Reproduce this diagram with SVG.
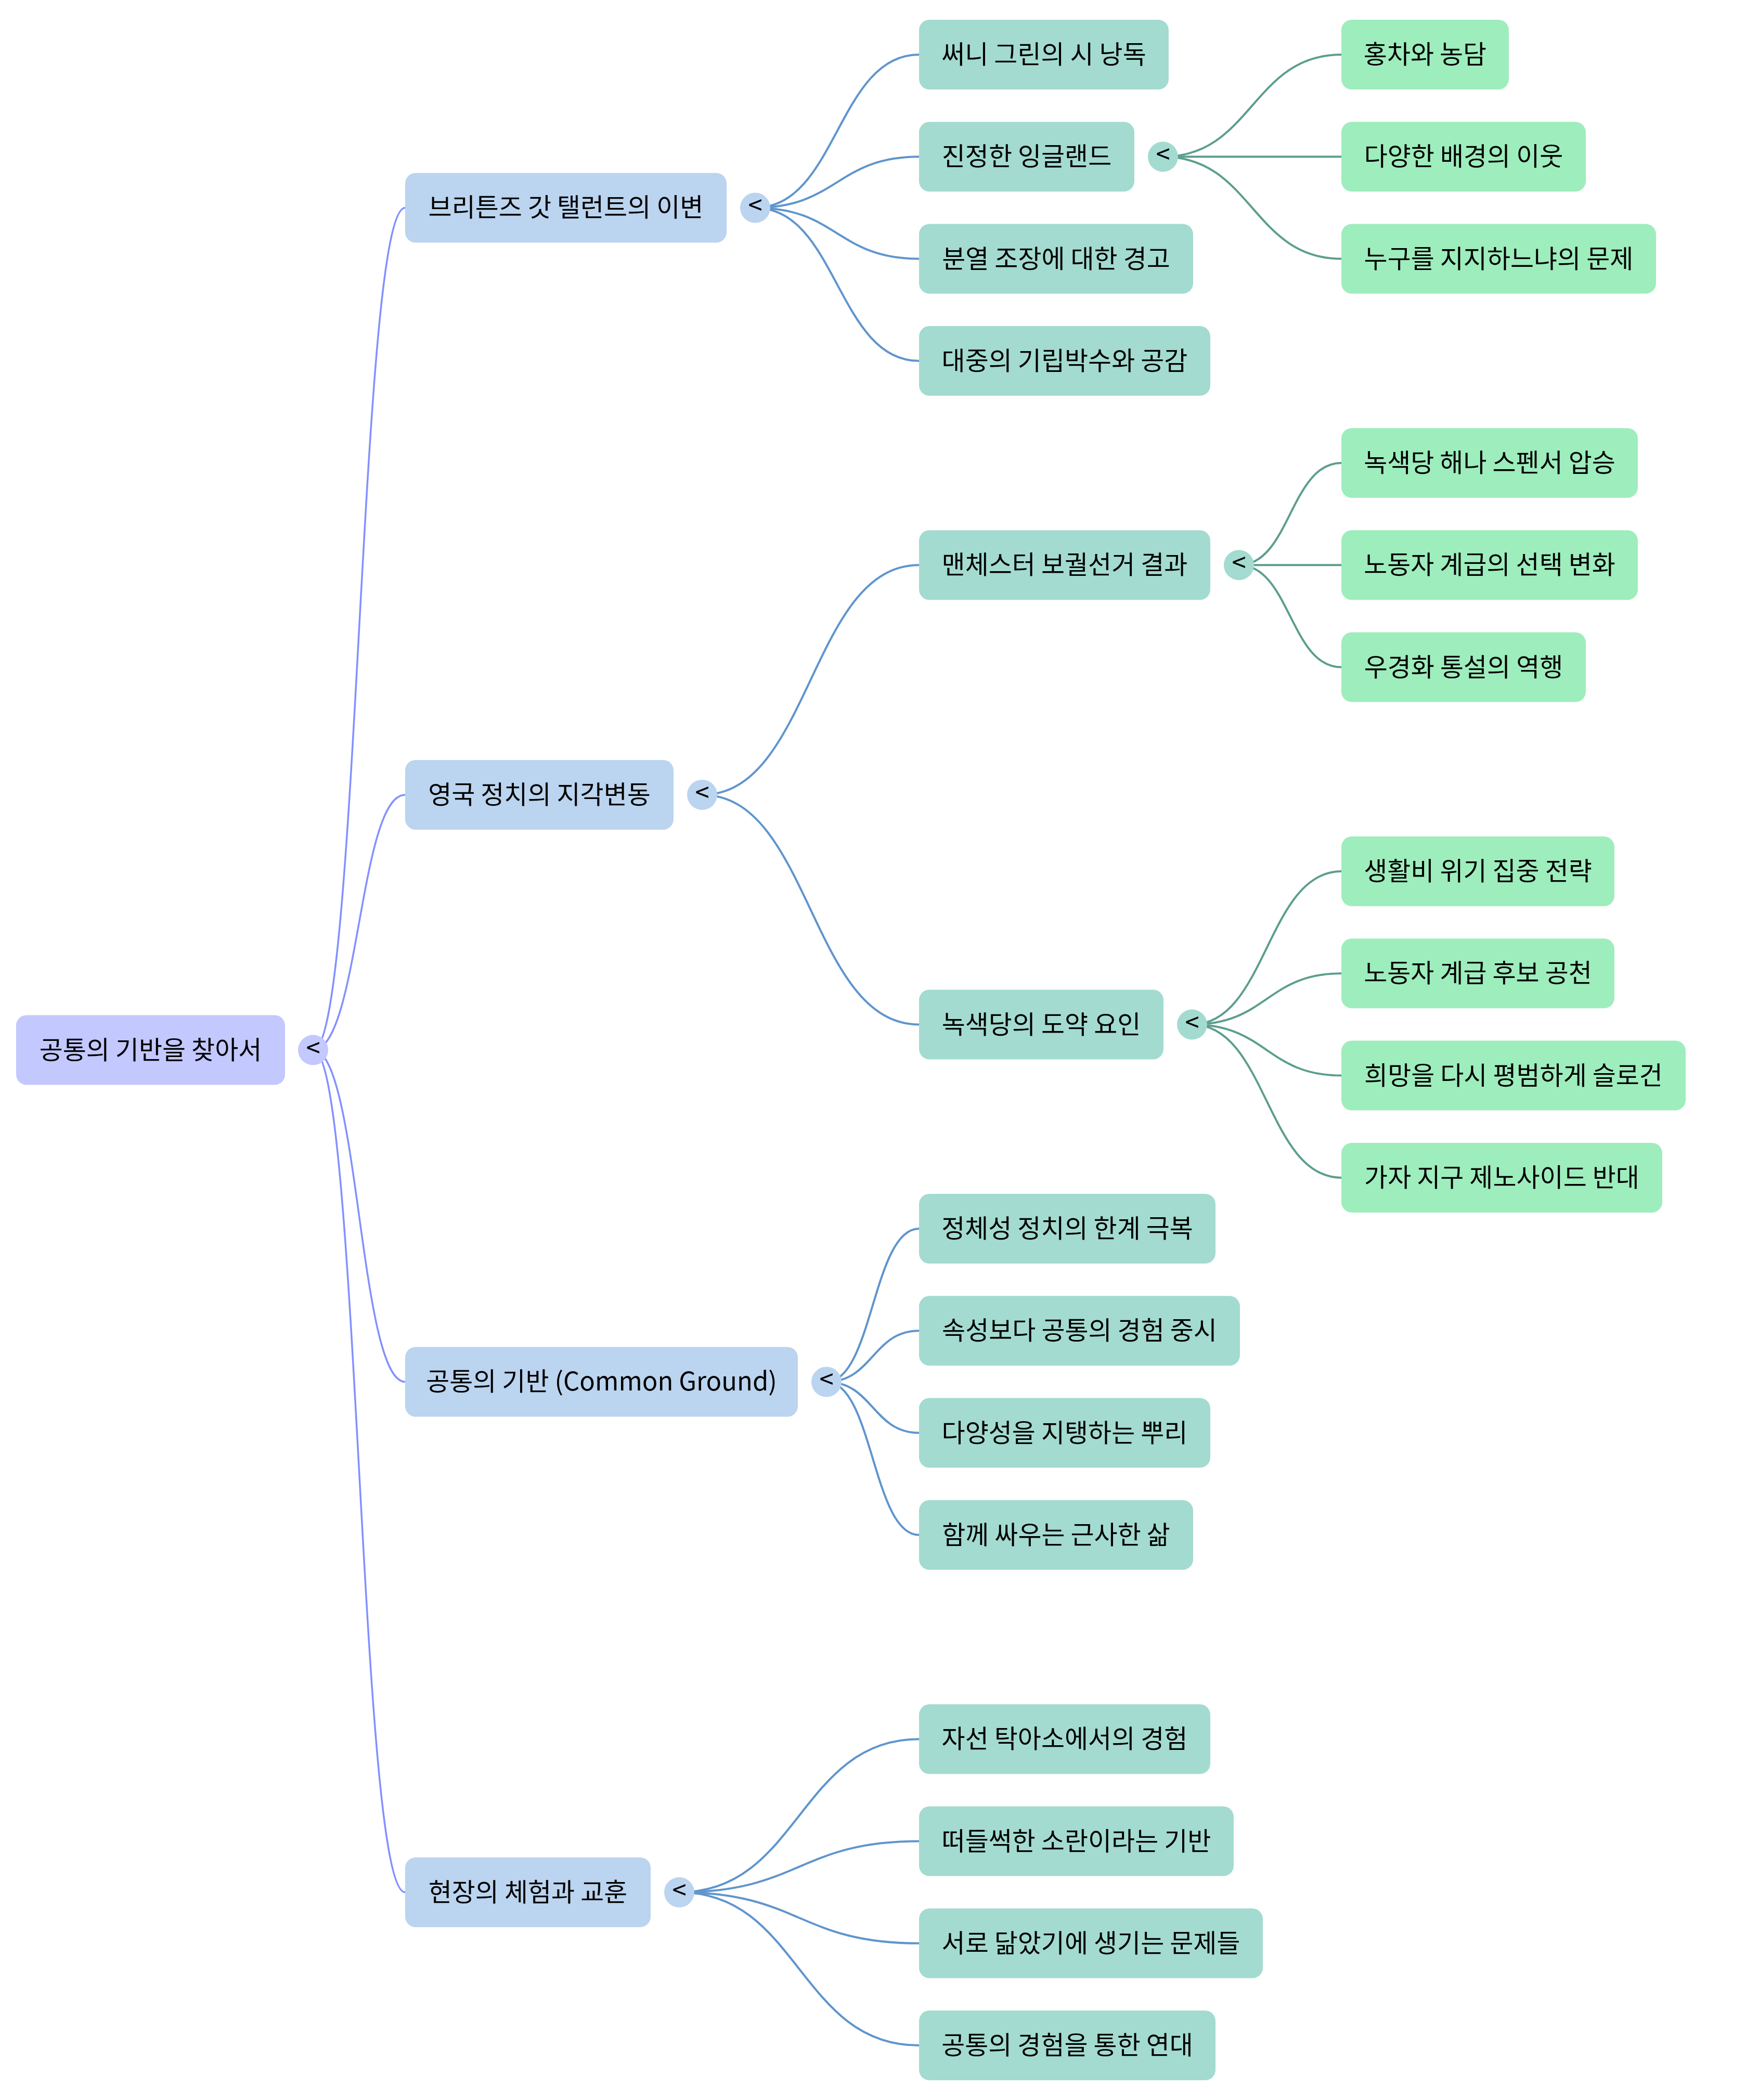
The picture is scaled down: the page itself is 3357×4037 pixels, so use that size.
<svg xmlns="http://www.w3.org/2000/svg" width="3357" height="4037" viewBox="0 0 3357 4037">
<style>
text{font-family:"Noto Sans CJK KR","Noto Sans",sans-serif;font-size:49px;fill:#000;text-anchor:middle}
.root rect,.root circle{fill:#c3c8fe}
.l1 rect,.l1 circle{fill:#bbd4ef}
.l2 rect,.l2 circle{fill:#a3dbd0}
.l3 rect{fill:#9eedbd}
.e0{fill:none;stroke:#8290ff;stroke-width:3.5}
.e1{fill:none;stroke:#5f95cd;stroke-width:4}
.e2{fill:none;stroke:#5c9e8e;stroke-width:4}
</style>
<rect width="3357" height="4037" fill="#fff"/>
<g id="connectors">
<path class="e0" d="M602,2018.5 C690.5,2018.5 690.5,399.4 779,399.4"/>
<path class="e0" d="M602,2018.5 C690.5,2018.5 690.5,1527.9 779,1527.9"/>
<path class="e0" d="M602,2018.5 C690.5,2018.5 690.5,2656.4 779,2656.4"/>
<path class="e0" d="M602,2018.5 C690.5,2018.5 690.5,3637.7 779,3637.7"/>
<path class="e1" d="M1452,399.4 C1609.5,399.4 1609.5,105 1767,105"/>
<path class="e1" d="M1452,399.4 C1609.5,399.4 1609.5,301.3 1767,301.3"/>
<path class="e1" d="M1452,399.4 C1609.5,399.4 1609.5,497.5 1767,497.5"/>
<path class="e1" d="M1452,399.4 C1609.5,399.4 1609.5,693.8 1767,693.8"/>
<path class="e1" d="M1350,1527.9 C1558.5,1527.9 1558.5,1086.3 1767,1086.3"/>
<path class="e1" d="M1350,1527.9 C1558.5,1527.9 1558.5,1969.5 1767,1969.5"/>
<path class="e1" d="M1589,2656.4 C1678,2656.4 1678,2362 1767,2362"/>
<path class="e1" d="M1589,2656.4 C1678,2656.4 1678,2558.3 1767,2558.3"/>
<path class="e1" d="M1589,2656.4 C1678,2656.4 1678,2754.5 1767,2754.5"/>
<path class="e1" d="M1589,2656.4 C1678,2656.4 1678,2950.8 1767,2950.8"/>
<path class="e1" d="M1306,3637.7 C1536.5,3637.7 1536.5,3343.3 1767,3343.3"/>
<path class="e1" d="M1306,3637.7 C1536.5,3637.7 1536.5,3539.6 1767,3539.6"/>
<path class="e1" d="M1306,3637.7 C1536.5,3637.7 1536.5,3735.8 1767,3735.8"/>
<path class="e1" d="M1306,3637.7 C1536.5,3637.7 1536.5,3932.1 1767,3932.1"/>
<path class="e2" d="M2236,301.3 C2407.5,301.3 2407.5,105 2579,105"/>
<path class="e2" d="M2236,301.3 C2407.5,301.3 2407.5,301.3 2579,301.3"/>
<path class="e2" d="M2236,301.3 C2407.5,301.3 2407.5,497.5 2579,497.5"/>
<path class="e2" d="M2382,1086.3 C2480.5,1086.3 2480.5,890 2579,890"/>
<path class="e2" d="M2382,1086.3 C2480.5,1086.3 2480.5,1086.3 2579,1086.3"/>
<path class="e2" d="M2382,1086.3 C2480.5,1086.3 2480.5,1282.6 2579,1282.6"/>
<path class="e2" d="M2292,1969.5 C2435.5,1969.5 2435.5,1675.1 2579,1675.1"/>
<path class="e2" d="M2292,1969.5 C2435.5,1969.5 2435.5,1871.3 2579,1871.3"/>
<path class="e2" d="M2292,1969.5 C2435.5,1969.5 2435.5,2067.6 2579,2067.6"/>
<path class="e2" d="M2292,1969.5 C2435.5,1969.5 2435.5,2263.9 2579,2263.9"/>
</g>
<g id="root" class="root"><rect x="31" y="1951.5" width="517" height="134" rx="20"/><text x="289.5" y="2035.5">공통의 기반을 찾아서</text><circle cx="602" cy="2018.5" r="29"/><text x="602" y="2031.5">&lt;</text></g>
<g id="n1" class="l1"><rect x="779" y="332.4" width="618" height="134" rx="20"/><text x="1088" y="416.4">브리튼즈 갓 탤런트의 이변</text><circle cx="1452" cy="399.4" r="29"/><text x="1452" y="412.4">&lt;</text></g>
<g id="n2" class="l1"><rect x="779" y="1460.9" width="516" height="134" rx="20"/><text x="1037" y="1544.9">영국 정치의 지각변동</text><circle cx="1350" cy="1527.9" r="29"/><text x="1350" y="1540.9">&lt;</text></g>
<g id="n3" class="l1"><rect x="779" y="2589.4" width="755" height="134" rx="20"/><text x="1156.5" y="2673.4">공통의 기반 (Common Ground)</text><circle cx="1589" cy="2656.4" r="29"/><text x="1589" y="2669.4">&lt;</text></g>
<g id="n4" class="l1"><rect x="779" y="3570.7" width="472" height="134" rx="20"/><text x="1015" y="3654.7">현장의 체험과 교훈</text><circle cx="1306" cy="3637.7" r="29"/><text x="1306" y="3650.7">&lt;</text></g>
<g id="n1a" class="l2"><rect x="1767" y="38" width="480" height="134" rx="20"/><text x="2007" y="122">써니 그린의 시 낭독</text></g>
<g id="n1b" class="l2"><rect x="1767" y="234.3" width="414" height="134" rx="20"/><text x="1974" y="318.3">진정한 잉글랜드</text><circle cx="2236" cy="301.3" r="29"/><text x="2236" y="314.3">&lt;</text></g>
<g id="n1c" class="l2"><rect x="1767" y="430.5" width="527" height="134" rx="20"/><text x="2030.5" y="514.5">분열 조장에 대한 경고</text></g>
<g id="n1d" class="l2"><rect x="1767" y="626.8" width="560" height="134" rx="20"/><text x="2047" y="710.8">대중의 기립박수와 공감</text></g>
<g id="n2a" class="l2"><rect x="1767" y="1019.3" width="560" height="134" rx="20"/><text x="2047" y="1103.3">맨체스터 보궐선거 결과</text><circle cx="2382" cy="1086.3" r="29"/><text x="2382" y="1099.3">&lt;</text></g>
<g id="n2b" class="l2"><rect x="1767" y="1902.5" width="470" height="134" rx="20"/><text x="2002" y="1986.5">녹색당의 도약 요인</text><circle cx="2292" cy="1969.5" r="29"/><text x="2292" y="1982.5">&lt;</text></g>
<g id="n3a" class="l2"><rect x="1767" y="2295" width="570" height="134" rx="20"/><text x="2052" y="2379">정체성 정치의 한계 극복</text></g>
<g id="n3b" class="l2"><rect x="1767" y="2491.3" width="617" height="134" rx="20"/><text x="2075.5" y="2575.3">속성보다 공통의 경험 중시</text></g>
<g id="n3c" class="l2"><rect x="1767" y="2687.5" width="560" height="134" rx="20"/><text x="2047" y="2771.5">다양성을 지탱하는 뿌리</text></g>
<g id="n3d" class="l2"><rect x="1767" y="2883.8" width="527" height="134" rx="20"/><text x="2030.5" y="2967.8">함께 싸우는 근사한 삶</text></g>
<g id="n4a" class="l2"><rect x="1767" y="3276.3" width="560" height="134" rx="20"/><text x="2047" y="3360.3">자선 탁아소에서의 경험</text></g>
<g id="n4b" class="l2"><rect x="1767" y="3472.6" width="605" height="134" rx="20"/><text x="2069.5" y="3556.6">떠들썩한 소란이라는 기반</text></g>
<g id="n4c" class="l2"><rect x="1767" y="3668.8" width="661" height="134" rx="20"/><text x="2097.5" y="3752.8">서로 닮았기에 생기는 문제들</text></g>
<g id="n4d" class="l2"><rect x="1767" y="3865.1" width="570" height="134" rx="20"/><text x="2052" y="3949.1">공통의 경험을 통한 연대</text></g>
<g id="n1b1" class="l3"><rect x="2579" y="38" width="322" height="134" rx="20"/><text x="2740" y="122">홍차와 농담</text></g>
<g id="n1b2" class="l3"><rect x="2579" y="234.3" width="470" height="134" rx="20"/><text x="2814" y="318.3">다양한 배경의 이웃</text></g>
<g id="n1b3" class="l3"><rect x="2579" y="430.5" width="605" height="134" rx="20"/><text x="2881.5" y="514.5">누구를 지지하느냐의 문제</text></g>
<g id="n2a1" class="l3"><rect x="2579" y="823" width="570" height="134" rx="20"/><text x="2864" y="907">녹색당 해나 스펜서 압승</text></g>
<g id="n2a2" class="l3"><rect x="2579" y="1019.3" width="570" height="134" rx="20"/><text x="2864" y="1103.3">노동자 계급의 선택 변화</text></g>
<g id="n2a3" class="l3"><rect x="2579" y="1215.6" width="470" height="134" rx="20"/><text x="2814" y="1299.6">우경화 통설의 역행</text></g>
<g id="n2b1" class="l3"><rect x="2579" y="1608.1" width="525" height="134" rx="20"/><text x="2841.5" y="1692.1">생활비 위기 집중 전략</text></g>
<g id="n2b2" class="l3"><rect x="2579" y="1804.3" width="525" height="134" rx="20"/><text x="2841.5" y="1888.3">노동자 계급 후보 공천</text></g>
<g id="n2b3" class="l3"><rect x="2579" y="2000.6" width="662" height="134" rx="20"/><text x="2910" y="2084.6">희망을 다시 평범하게 슬로건</text></g>
<g id="n2b4" class="l3"><rect x="2579" y="2196.9" width="617" height="134" rx="20"/><text x="2887.5" y="2280.9">가자 지구 제노사이드 반대</text></g>
</svg>
